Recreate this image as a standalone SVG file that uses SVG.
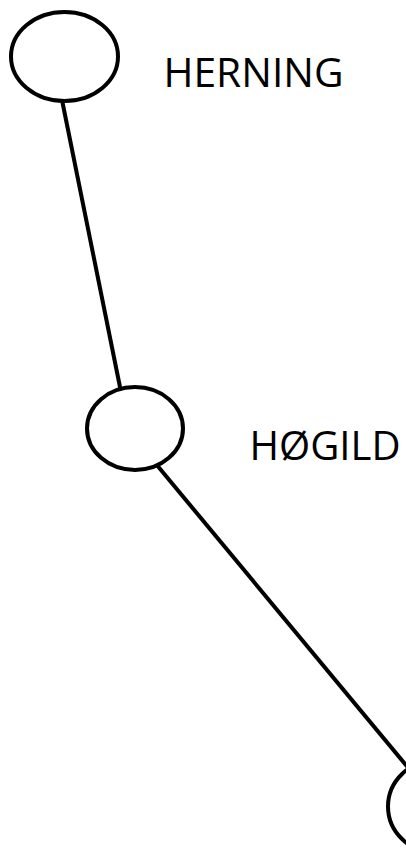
<svg xmlns="http://www.w3.org/2000/svg" width="406" height="849" viewBox="0 0 406 849">
<style>
.node{fill:#fff;stroke:#000;stroke-width:4}
.edge{stroke:#000;stroke-width:4;fill:none}
.label{font-family:"Open Sans","Noto Sans",sans-serif;font-size:40px;fill:#000}
</style>
<rect width="406" height="849" fill="#fff"/>
<g id="connectors">
<line class="edge" x1="62" y1="100" x2="121" y2="392"/>
<line class="edge" x1="156" y1="464" x2="410" y2="770"/>
</g>
<g id="herning">
<ellipse class="node" cx="64.5" cy="56.5" rx="53.5" ry="44.5"/>
<text class="label" x="163.5" y="87" textLength="180" lengthAdjust="spacingAndGlyphs">HERNING</text>
</g>
<g id="hogild">
<ellipse class="node" cx="135" cy="428.5" rx="48" ry="41.5"/>
<text class="label" x="249.5" y="460" textLength="151" lengthAdjust="spacingAndGlyphs">HØGILD</text>
</g>
<g id="node3">
<ellipse class="node" cx="436" cy="806.5" rx="48" ry="46"/>
</g>
</svg>
